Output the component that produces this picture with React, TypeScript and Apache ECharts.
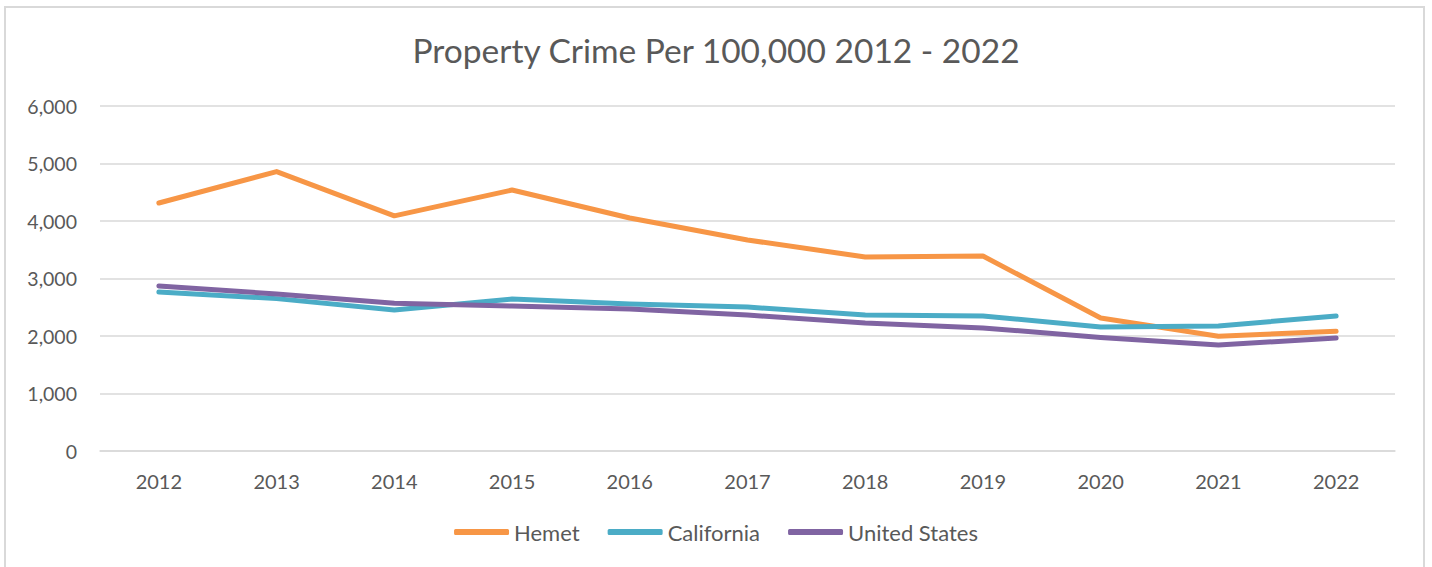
import React, { useEffect, useRef } from "react";
import * as echarts from "echarts";

const years = ["2012", "2013", "2014", "2015", "2016", "2017", "2018", "2019", "2020", "2021", "2022"];
const hemet = [4313, 4860, 4090, 4539, 4052, 3670, 3374, 3391, 2313, 1995, 2082];
const california = [2765, 2650, 2452, 2643, 2557, 2504, 2365, 2348, 2157, 2174, 2348];
const unitedStates = [2870, 2730, 2568, 2522, 2470, 2365, 2226, 2140, 1975, 1843, 1965];

const FONT = "Lato, 'Open Sans', sans-serif";
const TXT = "#595959";

export default function App() {
  const ref = useRef<HTMLDivElement>(null);
  useEffect(() => {
    document.body.style.margin = "0";
    const chart = echarts.init(ref.current!, undefined, { renderer: "svg" });
    const mk = (name: string, data: number[], color: string) => ({
      name,
      type: "line",
      data,
      symbol: "none",
      lineStyle: { width: 5, color, cap: "round", join: "round" },
      itemStyle: { color },
    });
    chart.setOption({
      animation: false,
      textStyle: { fontFamily: FONT },
      title: {
        text: "Property Crime Per 100,000 2012 - 2022",
        left: "center",
        top: 28,
        textStyle: { fontFamily: FONT, fontSize: 33.5, fontWeight: "normal", color: TXT },
      },
      graphic: [
        {
          type: "rect",
          shape: { x: 5, y: 7, width: 1419, height: 600 },
          style: { fill: "none", stroke: "#d9d9d9", lineWidth: 2 },
          silent: true,
        },
      ],
      legend: {
        bottom: 19,
        left: "center",
        itemWidth: 55,
        itemHeight: 6,
        itemGap: 28,
        icon: "roundRect",
        textStyle: { fontFamily: FONT, fontSize: 22, color: TXT },
        data: ["Hemet", "California", "United States"],
      },
      grid: { left: 100, right: 37, top: 106, bottom: 116, containLabel: false },
      xAxis: {
        type: "category",
        data: years,
        boundaryGap: true,
        axisLine: { lineStyle: { color: "#d9d9d9", width: 1.5 } },
        axisTick: { show: false },
        axisLabel: { fontFamily: FONT, fontSize: 20, color: TXT, margin: 20 },
      },
      yAxis: {
        type: "value",
        min: 0,
        max: 6000,
        interval: 1000,
        axisLine: { show: false },
        axisTick: { show: false },
        splitLine: { lineStyle: { color: "#d9d9d9", width: 1.5 } },
        axisLabel: {
          fontFamily: FONT,
          fontSize: 19.5,
          color: TXT,
          margin: 23,
          formatter: (v: number) => v.toLocaleString("en-US"),
        },
      },
      series: [
        mk("Hemet", hemet, "#f79646"),
        mk("California", california, "#4bacc6"),
        mk("United States", unitedStates, "#8064a2"),
      ],
    });
    return () => chart.dispose();
  }, []);
  return <div ref={ref} style={{ width: 1432, height: 567 }} />;
}
